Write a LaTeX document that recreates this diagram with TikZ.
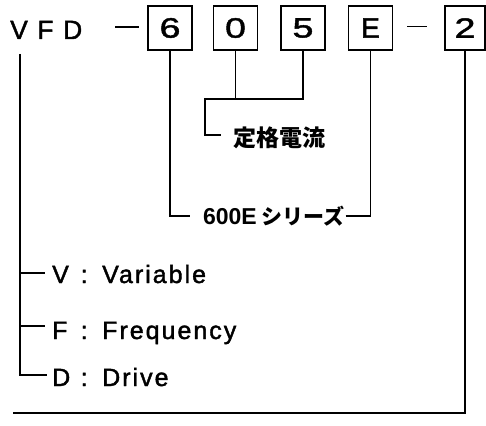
\documentclass[tikz,border=0pt]{standalone}
\usepackage{fontspec}
\setmainfont{Liberation Sans}
\newfontfamily\jp{Noto Sans CJK JP}
\newfontfamily\heavy[FakeBold=1.6]{Liberation Sans}
\newfontfamily\boxfont[FakeStretch=1.35,FakeBold=1.6]{Liberation Sans}
\begin{document}
\begin{tikzpicture}[x=1pt,y=-1pt,
  conn/.style={line width=1.3pt},
  digitbox/.style={draw, line width=1.3pt, minimum width=44pt, minimum height=44pt, inner sep=0pt,
    font={\boxfont\fontsize{28}{30}\selectfont}},
  letterbox/.style={digitbox, font={\heavy\fontsize{28}{30}\selectfont}},
  lbl/.style={inner sep=0pt, anchor=base west, font={\heavy\fontsize{25}{27}\selectfont}},
  jptext/.style={inner sep=0pt, anchor=base west}]
\useasboundingbox (0,0) rectangle (486,425);

% heading
\node[inner sep=0pt, anchor=base west, font={\heavy\fontsize{26.5}{28}\selectfont}] (vfd) at (10,39)
  {\addfontfeature{LetterSpace=36}VFD};
\coordinate (d1a) at (115,27); \coordinate (d1b) at (139,27);
\draw[conn] (d1a) -- (d1b);
\node[digitbox] (b6) at (170,28) {6};
\node[digitbox] (b0) at (235.5,28) {0};
\node[digitbox] (b5) at (303,28) {5};
\node[letterbox] (bE) at (370.5,28) {E};
\coordinate (d2a) at (407,26.7); \coordinate (d2b) at (427,26.7);
\draw[conn] (d2a) -- (d2b);
\node[digitbox, minimum width=40pt] (b2) at (465,28) {2};

% rated current
\node[jptext, font={\jp\bfseries\fontsize{23}{25}\selectfont}] (tR) at (233,146.5) {定格電流};
\coordinate (m05) at (205,99);
\coordinate (k05) at (221,135);
\draw[conn] (b5.south) |- (m05) |- (k05);
\draw[conn] (b0.south) -- (b0.south |- m05);

% series
\node[jptext, outer sep=1pt] (t600) at (202,224)
  {{\bfseries\fontsize{23}{25}\selectfont 600E}\hspace{5pt}{\jp\bfseries\fontsize{21}{23}\selectfont シリーズ}};
\coordinate (k600) at (190,216);
\draw[conn] (b6.south) |- (k600);
\draw[conn] (t600.east |- k600) -| (bE.south);

% VFD meaning
\node[lbl] (tV) at (52,283) {\makebox[28.5pt][l]{V}\makebox[21.5pt][l]{:}{\addfontfeature{LetterSpace=8}Variable}};
\node[lbl] (tF) at (52,339) {\makebox[28.5pt][l]{F}\makebox[21.5pt][l]{:}{\addfontfeature{LetterSpace=8}Frequency}};
\node[lbl] (tD) at (52,386) {\makebox[28.5pt][l]{D}\makebox[21.5pt][l]{:}{\addfontfeature{LetterSpace=8}Drive}};
\coordinate (lvtop) at (20,54);
\coordinate (lvV) at (20,273); \coordinate (eV) at (45,273);
\coordinate (lvF) at (20,326); \coordinate (eF) at (45,326);
\coordinate (eD) at (47,375);
\draw[conn] (lvtop) |- (eD);
\draw[conn] (lvV) -- (eV);
\draw[conn] (lvF) -- (eF);

% bottom line to last digit
\coordinate (bl) at (13,413);
\draw[conn] (bl) -| (b2.south);
\end{tikzpicture}
\end{document}
